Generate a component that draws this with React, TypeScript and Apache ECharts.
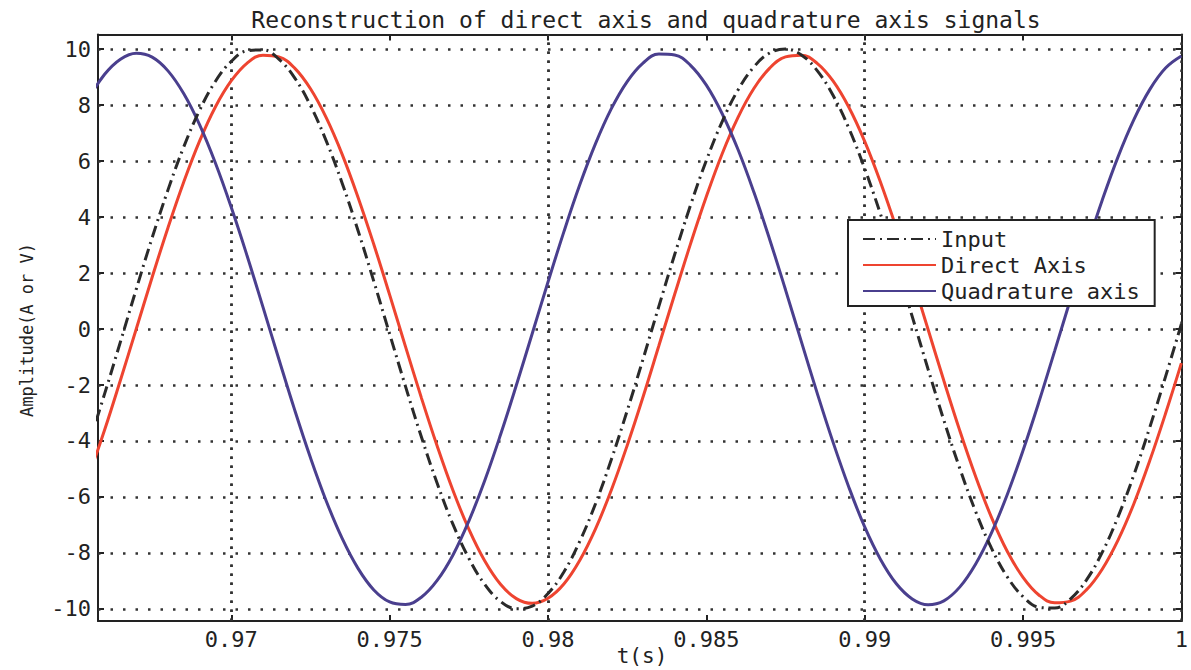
import React, { useEffect, useRef } from "react";
import * as echarts from "echarts";

const timeValues = [
  0.9655, 0.966, 0.9665, 0.967, 0.9675, 0.968, 0.9685, 0.969, 0.9695,
  0.97, 0.9705, 0.971, 0.9715, 0.972, 0.9725, 0.973, 0.9735, 0.974, 0.9745,
  0.975, 0.9755, 0.976, 0.9765, 0.977, 0.9775, 0.978, 0.9785, 0.979, 0.9795,
  0.98, 0.9805, 0.981, 0.9815, 0.982, 0.9825, 0.983, 0.9835, 0.984, 0.9845,
  0.985, 0.9855, 0.986, 0.9865, 0.987, 0.9875, 0.988, 0.9885, 0.989, 0.9895,
  0.99, 0.9905, 0.991, 0.9915, 0.992, 0.9925, 0.993, 0.9935, 0.994, 0.9945,
  0.995, 0.9955, 0.996, 0.9965, 0.997, 0.9975, 0.998, 0.9985, 0.999, 0.9995,
  1.0,
];

const inputValues = [
  -4.1, -2.31, -0.45, 1.43, 3.26, 4.97, 6.51, 7.82, 8.85, 9.56,
  9.94, 9.97, 9.64, 8.97, 7.98, 6.71, 5.21, 3.52, 1.7, -0.18,
  -2.05, -3.85, -5.51, -6.98, -8.19, -9.12, -9.73, -9.99, -9.9, -9.45,
  -8.68, -7.59, -6.24, -4.66, -2.92, -1.08, 0.81, 2.66, 4.42, 6.02,
  7.41, 8.54, 9.36, 9.86, 10.0, 9.79, 9.23, 8.35, 7.17, 5.73,
  4.1, 2.31, 0.45, -1.43, -3.26, -4.97, -6.51, -7.82, -8.85, -9.56,
  -9.94, -9.97, -9.64, -8.97, -7.98, -6.71, -5.21, -3.52, -1.7, 0.18,
];

const directValues = [
  -5.24, -3.6, -1.82, 0.01, 1.85, 3.62, 5.26, 6.72, 7.94, 8.87,
  9.5, 9.78, 9.72, 9.32, 8.58, 7.54, 6.24, 4.71, 3.02, 1.22,
  -0.63, -2.45, -4.18, -5.77, -7.15, -8.28, -9.12, -9.63, -9.8, -9.62,
  -9.11, -8.27, -7.14, -5.75, -4.16, -2.43, -0.6, 1.24, 3.04, 4.73,
  6.26, 7.56, 8.59, 9.32, 9.72, 9.78, 9.49, 8.86, 7.92, 6.7,
  5.24, 3.6, 1.82, -0.01, -1.85, -3.62, -5.26, -6.72, -7.94, -8.87,
  -9.5, -9.78, -9.72, -9.32, -8.58, -7.54, -6.24, -4.71, -3.02, -1.22,
];

const quadratureValues = [
  8.23, 9.1, 9.64, 9.85, 9.71, 9.22, 8.4, 7.29, 5.92, 4.34,
  2.61, 0.78, -1.07, -2.89, -4.6, -6.15, -7.48, -8.55, -9.32, -9.75,
  -9.84, -9.58, -8.98, -8.07, -6.86, -5.42, -3.78, -2.01, -0.17, 1.68,
  3.47, 5.14, 6.62, 7.87, 8.84, 9.5, 9.82, 9.79, 9.42, 8.71,
  7.69, 6.41, 4.89, 3.2, 1.4, -0.45, -2.29, -4.04, -5.65, -7.07,
  -8.23, -9.1, -9.64, -9.85, -9.71, -9.22, -8.4, -7.29, -5.92, -4.34,
  -2.61, -0.78, 1.07, 2.89, 4.6, 6.15, 7.48, 8.55, 9.32, 9.75,
];

const xTicks = [0.97, 0.975, 0.98, 0.985, 0.99, 0.995, 1.0];
const yTicks = [-10, -8, -6, -4, -2, 0, 2, 4, 6, 8, 10];

const seriesNames = ["Input", "Direct Axis", "Quadrature axis"];
const titleText = "Reconstruction of direct axis and quadrature axis signals";
const xName = "t(s)";
const yName = "Amplitude(A or V)";

const X_MIN = 0.96579;
const X_MAX = 1.0;
const Y_MIN = -10.43;
const Y_MAX = 10.52;

const FONT = "DejaVu Sans Mono";
const INK = "#222";

export default function App() {
  const ref = useRef<HTMLDivElement>(null);

  useEffect(() => {
    document.body.style.margin = "0";
    document.body.style.background = "#fff";
    if (!ref.current) return;
    const chart = echarts.init(ref.current, undefined, { renderer: "svg" });

    const pairs = (vals: number[]) => timeValues.map((t, i) => [t, vals[i]]);
    const fmtX = (v: number) => String(Number(v.toFixed(3)));

    const axisLine = { show: true, onZero: false, lineStyle: { color: INK, width: 2 } };
    const tickStyle = { color: INK, width: 2 };

    const gridLines = [
      ...yTicks.map((v) => ({
        yAxis: v,
        lineStyle: { type: [2.5, 10], color: "#333", width: 2.5 },
      })),
      ...xTicks.map((v) => ({
        xAxis: v,
        lineStyle: { type: [2.5, 6.5], color: "#333", width: 2.5 },
      })),
    ];

    chart.setOption({
      animation: false,
      backgroundColor: "#fff",
      grid: { left: 98, right: 4, top: 34.5, bottom: 49, containLabel: false },
      xAxis: [
        {
          type: "value",
          min: X_MIN,
          max: X_MAX,
          position: "bottom",
          axisLine,
          axisTick: { show: true, inside: true, length: 6, customValues: xTicks, lineStyle: tickStyle },
          axisLabel: {
            customValues: xTicks,
            formatter: fmtX,
            margin: 7,
            fontFamily: FONT,
            fontSize: 22,
            color: INK,
          },
          splitLine: { show: false },
        },
        {
          type: "value",
          min: X_MIN,
          max: X_MAX,
          position: "top",
          axisLine,
          axisTick: { show: true, inside: true, length: 6, customValues: xTicks, lineStyle: tickStyle },
          axisLabel: { show: false },
          splitLine: { show: false },
        },
      ],
      yAxis: [
        {
          type: "value",
          min: Y_MIN,
          max: Y_MAX,
          position: "left",
          axisLine,
          axisTick: { show: true, inside: true, length: 6, customValues: yTicks, lineStyle: tickStyle },
          axisLabel: {
            customValues: yTicks,
            margin: 7,
            fontFamily: FONT,
            fontSize: 22,
            color: INK,
          },
          splitLine: { show: false },
        },
        {
          type: "value",
          min: Y_MIN,
          max: Y_MAX,
          position: "right",
          axisLine,
          axisTick: { show: true, inside: true, length: 6, customValues: yTicks, lineStyle: tickStyle },
          axisLabel: { show: false },
          splitLine: { show: false },
        },
      ],
      legend: {
        data: seriesNames,
        orient: "vertical",
        left: 848,
        top: 220,
        z: 10,
        itemWidth: 73,
        itemHeight: 14,
        itemGap: 4,
        padding: [8, 15, 4, 14],
        backgroundColor: "#fff",
        borderColor: INK,
        borderWidth: 2,
        selectedMode: false,
        itemStyle: { color: "rgba(0,0,0,0)", borderWidth: 0, opacity: 0 },
        textStyle: { fontFamily: FONT, fontSize: 22, color: INK, lineHeight: 21 },
      },
      graphic: [
        {
          type: "text",
          x: 646,
          y: 20,
          style: {
            text: titleText,
            font: `23px "${FONT}"`,
            fill: INK,
            textAlign: "center",
            textVerticalAlign: "middle",
          },
        },
        {
          type: "text",
          x: 642,
          y: 656,
          style: {
            text: xName,
            font: `21px "${FONT}"`,
            fill: INK,
            textAlign: "center",
            textVerticalAlign: "middle",
          },
        },
        {
          type: "text",
          x: 27,
          y: 330,
          rotation: Math.PI / 2,
          style: {
            text: yName,
            font: `17px "${FONT}"`,
            fill: INK,
            textAlign: "center",
            textVerticalAlign: "middle",
          },
        },
      ],
      series: [
        {
          type: "line",
          name: "grid",
          data: [],
          silent: true,
          z: 1,
          markLine: {
            silent: true,
            z: 1,
            symbol: ["none", "none"],
            label: { show: false },
            animation: false,
            data: gridLines,
          },
        },
        {
          type: "line",
          name: seriesNames[0],
          data: pairs(inputValues),
          showSymbol: false,
          symbol: "none",
          smooth: 0.4,
          z: 3,
          lineStyle: { color: "#2a2a2a", width: 3, type: [12, 5, 2, 5] },
          itemStyle: { color: "#2a2a2a" },
        },
        {
          type: "line",
          name: seriesNames[1],
          data: pairs(directValues),
          showSymbol: false,
          symbol: "none",
          smooth: 0.4,
          z: 2,
          lineStyle: { color: "#ee4430", width: 3 },
          itemStyle: { color: "#ee4430" },
        },
        {
          type: "line",
          name: seriesNames[2],
          data: pairs(quadratureValues),
          showSymbol: false,
          symbol: "none",
          smooth: 0.4,
          z: 2,
          lineStyle: { color: "#4a3f8e", width: 3 },
          itemStyle: { color: "#4a3f8e" },
        },
      ],
    });

    return () => chart.dispose();
  }, []);

  return <div ref={ref} style={{ width: 1191, height: 670 }} />;
}
